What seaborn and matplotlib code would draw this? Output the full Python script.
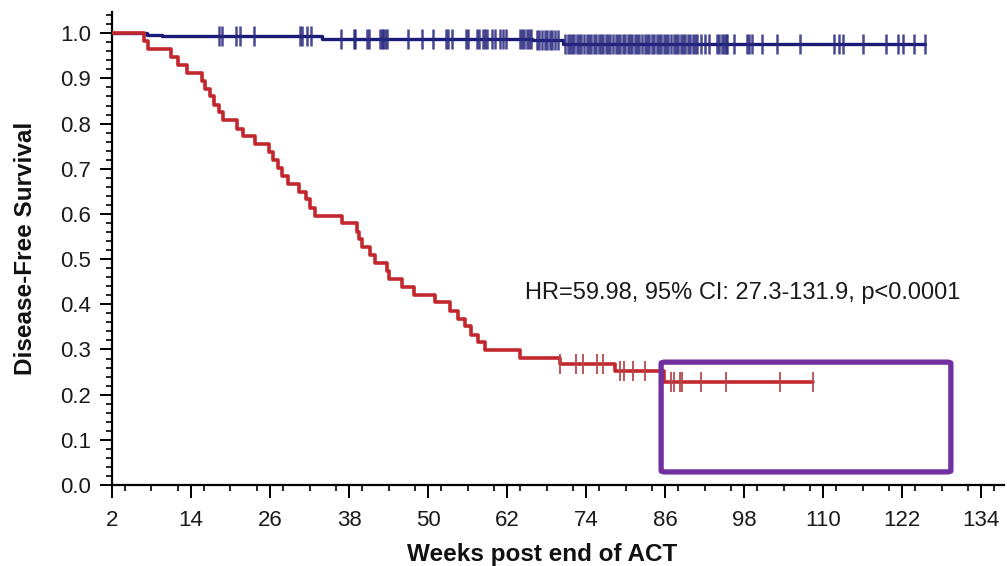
import numpy as np
import pandas as pd
import matplotlib
matplotlib.use("Agg")
import matplotlib.pyplot as plt
import seaborn as sns
from matplotlib.patches import FancyBboxPatch
from matplotlib.ticker import MultipleLocator

# ---------------- data ----------------
# Red group: Kaplan-Meier step times (weeks) and survival after each step
red_times = [2.0, 6.9, 7.5, 10.9, 12.1, 13.4, 15.6, 16.2, 16.9, 17.5, 18.2, 18.9,
             21.0, 21.9, 23.7, 25.8, 26.5, 27.2, 27.8, 28.8, 30.4, 31.4, 32.1, 32.8,
             36.9, 39.2, 39.5, 39.9, 41.2, 41.9, 43.7, 44.1, 46.0, 47.8, 51.1, 53.4,
             54.6, 55.6, 56.6, 57.6, 58.6, 64.0, 70.0, 78.4, 85.8]
red_surv = [1.000, 0.982, 0.965, 0.947, 0.930, 0.912, 0.895, 0.877, 0.860, 0.842, 0.825, 0.807,
            0.789, 0.772, 0.754, 0.737, 0.719, 0.702, 0.684, 0.667, 0.649, 0.632, 0.614, 0.596,
            0.579, 0.561, 0.544, 0.526, 0.509, 0.491, 0.474, 0.456, 0.439, 0.421, 0.404, 0.386,
            0.368, 0.351, 0.333, 0.316, 0.298, 0.281, 0.268, 0.252, 0.227]
red_end = 108.5
red_censor = [70.0, 72.5, 73.6, 75.7, 76.6, 79.1, 79.7, 81.1, 83.0,
              86.9, 87.3, 88.2, 88.5, 91.5, 95.2, 103.4, 108.5]

# Blue group
blue_times = [2.0, 7.3, 9.6, 33.9, 65.8, 70.5]
blue_surv = [1.000, 0.996, 0.993, 0.988, 0.985, 0.977]
blue_end = 125.4
blue_censor = [18.3, 18.7, 20.8, 21.5, 23.5, 30.5, 30.8, 31.6, 32.2, 36.8, 38.7, 38.9,
               40.7, 41.1, 42.7, 43.0, 43.2, 43.5, 43.8, 46.9, 49.1, 50.8, 52.8, 53.1,
               53.6, 55.8, 56.0, 57.5, 57.8, 58.4, 58.7, 58.9, 59.7, 60.2, 61.0, 61.4,
               61.9, 64.0, 64.3, 64.5, 65.0, 65.3, 65.6, 66.5, 66.9, 67.3, 67.7, 68.1,
               68.5, 68.8, 69.3, 69.8,
               70.8, 71.2, 71.5, 71.9, 72.2, 72.6, 73.0, 73.3, 73.7, 74.1, 74.4, 74.8,
               75.2, 75.5, 75.9, 76.3, 76.6, 77.0, 77.4, 77.7, 78.1, 78.5, 78.8, 79.2,
               79.6, 79.9, 80.3, 80.7, 81.0, 81.4, 81.8, 82.1, 82.5, 82.9, 83.2, 83.6,
               84.0, 84.3, 84.7, 85.1, 85.4, 85.8, 86.2, 86.5, 86.9, 87.3, 87.6, 88.0,
               88.4, 88.7, 89.1, 89.5, 89.8, 90.2, 90.6, 90.9, 91.4, 92.0, 92.6, 93.9,
               94.2, 94.6, 94.9, 95.2, 95.4, 96.5, 98.5, 98.8, 99.2, 100.7, 103.0,
               106.5, 111.7, 112.4, 113.0, 116.0, 119.5, 121.4, 122.2, 123.8, 125.4]

x_ticks = [2, 14, 26, 38, 50, 62, 74, 86, 98, 110, 122, 134]
y_ticks = [0.0, 0.1, 0.2, 0.3, 0.4, 0.5, 0.6, 0.7, 0.8, 0.9, 1.0]

hr_text = "HR=59.98, 95% CI: 27.3-131.9, p<0.0001"
x_label = "Weeks post end of ACT"
y_label = "Disease-Free Survival"

# highlight box (data coordinates: weeks, survival)
box_x = (85.4, 129.4)
box_y = (0.029, 0.272)

# ---------------- helpers ----------------
def curve_frame(times, surv, end):
    t = list(times) + [end]
    s = list(surv) + [surv[-1]]
    return pd.DataFrame({"time": t, "surv": s})


def censor_frame(times, surv, cens):
    idx = np.searchsorted(np.asarray(times), np.asarray(cens), side="right") - 1
    return pd.DataFrame({"time": cens, "surv": np.asarray(surv)[idx]})


# ---------------- plot ----------------
sns.set_style("ticks")
plt.rcParams["font.family"] = ["Liberation Sans", "DejaVu Sans"]

fig = plt.figure(figsize=(10.07, 5.66), dpi=100)
ax = fig.add_axes([0.1112, 0.1431, 0.886, 0.8357])

red_col = "#C1272D"
red_cens_col = "#B5464A"
blue_col = "#1B1B78"
blue_cens_col = "#28287F"

bdf = curve_frame(blue_times, blue_surv, blue_end)
rdf = curve_frame(red_times, red_surv, red_end)

sns.lineplot(data=bdf, x="time", y="surv", drawstyle="steps-post", estimator=None,
             color=blue_col, linewidth=2.4, ax=ax, zorder=2)
sns.scatterplot(data=censor_frame(blue_times, blue_surv, blue_censor), x="time", y="surv",
                marker="|", s=225, linewidth=1.8, color=blue_cens_col, alpha=0.85,
                ax=ax, zorder=3)
sns.lineplot(data=rdf, x="time", y="surv", drawstyle="steps-post", estimator=None,
             color=red_col, linewidth=2.6, ax=ax, zorder=4)
sns.scatterplot(data=censor_frame(red_times, red_surv, red_censor), x="time", y="surv",
                marker="|", s=225, linewidth=1.4, color=red_cens_col, alpha=0.9,
                ax=ax, zorder=5)

ax.set_xlim(2, 137.5)
ax.set_ylim(0, 1.047)
ax.set_xticks(x_ticks)
ax.set_yticks(y_ticks)
ax.set_yticklabels([f"{v:.1f}" for v in y_ticks])
ax.xaxis.set_minor_locator(MultipleLocator(4))
ax.yaxis.set_minor_locator(MultipleLocator(0.02))

ax.tick_params(axis="both", which="major", direction="out", length=9, width=1.4,
               labelsize=16, color="black", labelcolor="#1a1a1a")
ax.tick_params(axis="x", which="major", pad=9)
ax.tick_params(axis="y", which="major", pad=6)
ax.tick_params(axis="both", which="minor", direction="out", length=4.5, width=1.2,
               color="black")

for side in ("top", "right"):
    ax.spines[side].set_visible(False)
for side in ("left", "bottom"):
    ax.spines[side].set_linewidth(1.6)
    ax.spines[side].set_color("black")

ax.set_xlabel(x_label, fontsize=17.5, fontweight="bold", color="#111111")
ax.xaxis.set_label_coords(0.482, -0.122)
ax.set_ylabel(y_label, fontsize=17.5, fontweight="bold", labelpad=17, color="#111111")

ax.text(64.8, 0.425, hr_text, fontsize=17, ha="left", va="center", color="#1a1a1a")

box = FancyBboxPatch((box_x[0], box_y[0]), box_x[1] - box_x[0], box_y[1] - box_y[0],
                     boxstyle="round,pad=0,rounding_size=0.6", mutation_aspect=0.005,
                     fill=False, edgecolor="#7030A0", linewidth=3.8, zorder=6,
                     clip_on=False)
ax.add_patch(box)

fig.savefig("out.png", dpi=100, facecolor="white")
